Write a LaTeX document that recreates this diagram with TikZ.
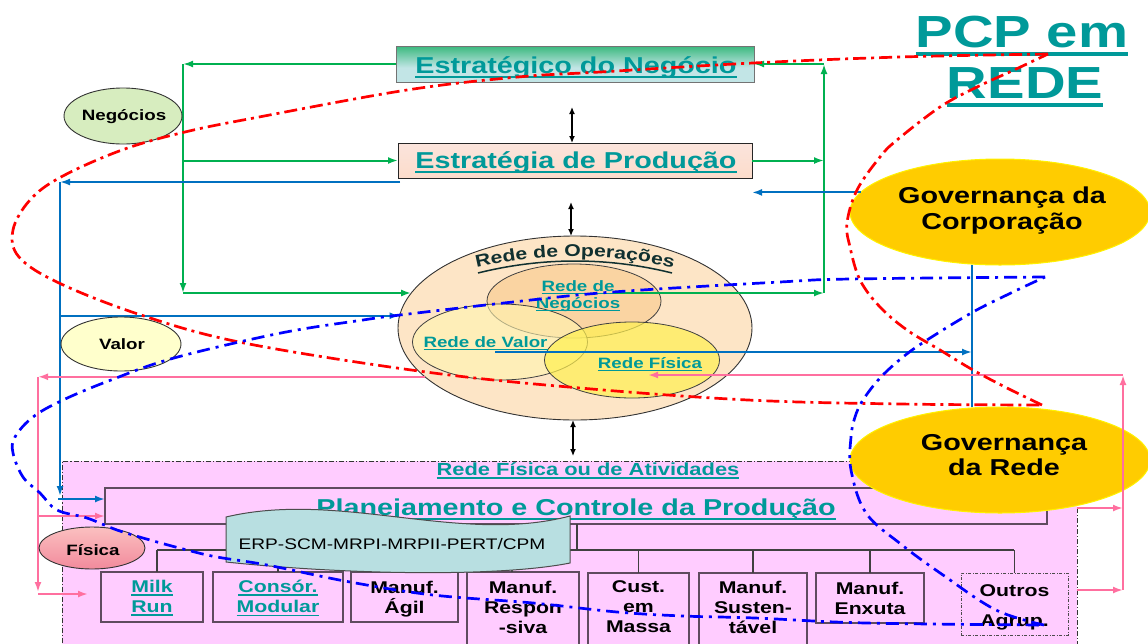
\documentclass[tikz,border=0pt]{standalone}
\usepackage{fontspec}
\newfontfamily\wf[FakeStretch=1.25]{Liberation Sans}
\usetikzlibrary{shapes.geometric,arrows.meta,decorations.text,calc}
\definecolor{tealt}{HTML}{009999}
\definecolor{gcol}{HTML}{00B050}
\definecolor{bcol}{HTML}{0070C0}
\definecolor{pcol}{HTML}{FF6F9F}
\definecolor{regcol}{HTML}{FFCCFF}
\definecolor{goldc}{HTML}{FFCC00}
\definecolor{opsc}{HTML}{FDE5C6}
\definecolor{negc}{HTML}{F8C98A}
\definecolor{valc}{HTML}{FFF5B0}
\definecolor{fisc}{HTML}{FFF050}
\definecolor{erpc}{HTML}{B8DFE1}
\definecolor{boxb}{HTML}{5F4B5F}
\definecolor{opt}{HTML}{103030}
\definecolor{negtop}{HTML}{00A651}
\definecolor{negbot}{HTML}{C2E5E6}
\definecolor{esttop}{HTML}{FBE4DC}
\definecolor{estmid}{HTML}{F8AF7E}
\definecolor{estbot}{HTML}{FCDCCB}
\definecolor{negl}{HTML}{D7EDBF}
\definecolor{vall}{HTML}{FFFFCC}
\definecolor{fistop}{HTML}{FBC0C0}
\definecolor{fisbot}{HTML}{F28A9C}
\pgfdeclareverticalshading{negshade}{100bp}{color(0bp)=(negbot); color(45bp)=(negbot); color(88bp)=(negtop); color(100bp)=(negtop)}
\newcommand\myul[1]{\leavevmode\setbox0\hbox{#1}\rlap{\vrule width\wd0 height -0.12em depth 0.21em}\box0}
\begin{document}
\begin{tikzpicture}[x=1pt,y=-1pt,
  every node/.style={inner sep=0pt, outer sep=0pt},
  fnt/.style args={#1/#2}{font=\wf\bfseries\fontsize{#1}{#2}\selectfont},
  gA/.style={draw=gcol, line width=2pt, -{Latex[length=10pt,width=7pt]}},
  bA/.style={draw=bcol, line width=2pt, -{Latex[length=10pt,width=7pt]}},
  bL/.style={draw=bcol, line width=2pt},
  pA/.style={draw=pcol, line width=2pt, -{Latex[length=10pt,width=7pt]}},
  dA/.style={draw=black, line width=1.3pt, {Latex[length=7pt,width=6pt]}-{Latex[length=7pt,width=6pt]}},
  tree/.style={draw=black!75, line width=1.1pt},
  bbox/.style={draw=boxb, line width=1.2pt, fill=regcol, rectangle},
  blab/.style={fnt=17/20, align=center},
  ell/.style={ellipse, draw=black!80, line width=0.9pt},
  inell/.style={ellipse, draw=black!75, line width=0.8pt},
  gov/.style={ellipse, fill=goldc, draw=yellow, line width=1pt, minimum width=300pt, minimum height=106pt},
  redc/.style={draw=red, line width=2.7pt, dash pattern=on 13pt off 5pt on 3pt off 5pt},
  bluc/.style={draw=blue, line width=2.7pt, dash pattern=on 13pt off 6pt on 3pt off 6pt},
]
\useasboundingbox (0,0) rectangle (1148,643);

% ---------- physical network region ----------
\node[rectangle, fill=regcol, draw=black!80, line width=0.8pt, dash pattern=on 5pt off 2pt on 1.2pt off 2pt, minimum width=1015pt, minimum height=200pt] (region) at (569.5,561) {};
\node[fnt=17.5/20, text=tealt, anchor=base] (rtitle) at (588,475) {\myul{Rede Física ou de Atividades}};

% ---------- PCP box ----------
\node[rectangle, draw=boxb, line width=1.2pt, minimum width=942pt, minimum height=36pt] (pcp) at (576,506) {};
\node[fnt=23/27, text=tealt, anchor=base] (pcptxt) at (576,515) {\myul{Planejamento e Controle da Produção}};

% ---------- bottom boxes ----------
\node[bbox, minimum width=102pt, minimum height=50pt] (milk) at (152,597) {};
\node[bbox, minimum width=130pt, minimum height=50pt] (cons) at (278,597) {};
\node[bbox, minimum width=107pt, minimum height=50pt] (agil) at (404.5,597) {};
\node[bbox, minimum width=112pt, minimum height=88pt] (resp) at (523,616) {};
\node[bbox, minimum width=101pt, minimum height=87pt] (cust) at (638.5,616.5) {};
\node[bbox, minimum width=108pt, minimum height=87pt] (sust) at (753,616.5) {};
\node[bbox, minimum width=108pt, minimum height=50pt] (enx) at (870,598) {};
\node[rectangle, fill=regcol, draw=black!70, line width=0.9pt, dash pattern=on 3pt off 1.5pt on 1pt off 1.5pt, minimum width=107pt, minimum height=62pt] (outros) at (1014.5,604) {};

% tree connectors
\coordinate (busL) at (157,550);
\coordinate (busR) at (1014,550);
\coordinate (pcpd) at (577,550);
\coordinate (rd) at (512,550);
\draw[tree] (busL) -- (busR);
\draw[tree] (pcp.south -| pcpd) -- (pcpd);
\draw[tree] (busL) -- (busL |- milk.north);
\draw[tree] (rd) -- (rd |- resp.north);
\foreach \b in {cons,agil,cust,sust,enx,outros} \draw[tree] (busL -| \b.north) -- (\b.north);

\node[blab, text=tealt] (milkT) at (152,598) {\myul{Milk}\\\myul{Run}};
\node[blab, text=tealt] (consT) at (278,598) {\myul{Consór.}\\\myul{Modular}};
\node[blab] (agilT) at (404.5,599) {Manuf.\\Ágil};
\node[blab] (respT) at (523,607) {Manuf.\\Respon\\-siva};
\node[blab] (custT) at (638.5,607) {Cust.\\em\\Massa};
\node[blab] (sustT) at (753,607) {Manuf.\\Susten-\\tável};
\node[blab] (enxT) at (870,598) {Manuf.\\Enxuta};
\node[blab] (outT) at (1014.5,607) {Outros\\[10pt]Agrup.};

% ERP banner
\path[fill=erpc, draw=black!70, line width=1pt] (226,517) .. controls (340,490) and (460,545) .. (570,516) -- (570,563) .. controls (500,577) and (350,575) .. (226,562) -- cycle;
\node[font=\wf\fontsize{15.3}{18}\selectfont, anchor=base] (erp) at (392,549) {ERP-SCM-MRPI-MRPII-PERT/CPM};

% ---------- top boxes ----------
\node[rectangle, shading=negshade, draw=black!55, line width=1pt, minimum width=358pt, minimum height=36pt] (negbox) at (575,64) {};
\node[fnt=23/27, text=tealt, anchor=base] (negtxt) at (576,73) {\myul{Estratégico do Negócio}};
\node[rectangle, top color=esttop, middle color=estmid, bottom color=estbot, draw=black!85, line width=1pt, minimum width=354pt, minimum height=35pt] (estbox) at (575,160.5) {};
\node[fnt=23/27, text=tealt, anchor=base] (esttxt) at (576,168) {\myul{Estratégia de Produção}};

% ---------- operations network ----------
\node[ell, fill=opsc, minimum width=354pt, minimum height=184pt] (ops) at (575,328) {};
\node[inell, fill=negc, fill opacity=0.6, minimum width=174pt, minimum height=74pt] (rneg) at (574,301) {};
\node[inell, fill=valc, fill opacity=0.6, minimum width=175pt, minimum height=76pt] (rval) at (500,342) {};
\node[inell, fill=fisc, fill opacity=0.7, minimum width=175pt, minimum height=76pt] (rfis) at (632,360) {};
\path[decorate, decoration={text along path, text align=center, text color=opt, text={|\wf\bfseries\fontsize{17}{20}\selectfont|Rede de Operações}}] (468,270) .. controls (538,252) and (612,252) .. (682,270);
\draw[opt, line width=1.5pt] (478,273) .. controls (542,257) and (608,257) .. (672,273);
\node[fnt=15/18, text=tealt, anchor=base] (rnegT1) at (578,291) {\myul{Rede de}};
\node[fnt=15/18, text=tealt, anchor=base] (rnegT2) at (578,308) {\myul{Negócios}};
\node[fnt=15/18, text=tealt, anchor=base] (rvalT) at (485.5,347) {\myul{Rede de Valor}};
\node[fnt=15/18, text=tealt, anchor=base] (rfisT) at (650,368) {\myul{Rede Física}};

% black double arrows
\coordinate (a1) at (572,107);
\coordinate (a2) at (571,202);
\coordinate (a3) at (573,456);
\draw[dA] (a1) -- (a1 |- estbox.north);
\draw[dA] (a2) -- (a2 |- ops.north);
\draw[dA] (a3 |- ops.south) -- (a3);

% ---------- governance ----------
\node[gov] (govC) at (1000,212) {};
\node[gov] (govR) at (1000,460) {};
\node[fnt=23/27, anchor=base] (govC1) at (1002,203) {Governança da};
\node[fnt=23/27, anchor=base] (govC2) at (1002,229) {Corporação};
\node[fnt=23/27, anchor=base] (govR1) at (1004,450) {Governança};
\node[fnt=23/27, anchor=base] (govR2) at (1004,475) {da Rede};

% ---------- green connectors ----------
\coordinate (gx) at (183,293);
\coordinate (gx2) at (824,293);
\coordinate (g1) at (613,293);
\draw[gA] (negbox.west) -- (negbox.west -| gx);
\draw[gA] (negbox.west -| gx) -- (gx);
\draw[gA] (gx) -- (gx -| ops.168);
\draw[gA] (estbox.west -| gx) -- (estbox.west);
\draw[gA] (estbox.east) -- (estbox.east -| gx2);
\draw[gA] (g1) -- (gx2);
\draw[gA] (gx2) -- (gx2 |- negbox.east);
\draw[gA] (gx2 |- negbox.east) -- (negbox.east);

% ---------- blue connectors ----------
\coordinate (b1) at ($(estbox.south west)+(2,4)$);
\coordinate (bx) at (60,499);
\coordinate (bv) at (972,352);
\coordinate (b2) at (495,352);
\draw[bA] (b1) -- (b1 -| bx);
\draw[bA] (b1 -| bx) -- ($(bx)+(0,-3)$);
\draw[bA] ($(bx)+(-2,0)$) -- (bx -| pcp.west);
\draw[bA] (bx |- ops.176) -- (ops.176);
\draw[bA] (govC.172) -- (govC.172 -| estbox.east);
\draw[bL] (bv |- govC.south) -- (bv |- govR.north);
\draw[bA] (b2) -- (bv);

% ---------- pink connectors ----------
\coordinate (px) at (38,594);
\coordinate (p516) at (38,516);
\coordinate (pt1) at (88,594);
\coordinate (px2) at (1123,375);
\coordinate (pr1) at (1123,508);
\coordinate (pr2) at (1123,590);
\coordinate (p648) at (648,375);
\draw[pA] (ops.198) -- (ops.198 -| px);
\draw[pA] (ops.198 -| px) -- ($(px)+(0,-2)$);
\draw[pA] (p516) -- (p516 -| pcp.west);
\draw[pA] (px) -- (pt1);
\draw[pA] (pr1 -| region.east) -- (pr1);
\draw[pA] (pr2 -| region.east) -- (pr2);
\draw[pA] (pr2) -- (px2);
\draw[pA] (px2) -- (p648);

% ---------- left ellipses ----------
\node[ell, fill=negl, minimum width=118pt, minimum height=56pt] (negL) at (123,116) {};
\node[fnt=15/18, anchor=base] (negLT) at (124,120) {Negócios};
\node[ell, fill=vall, minimum width=120pt, minimum height=54pt] (valL) at (121,344) {};
\node[fnt=15/18, anchor=base] (valLT) at (122,349) {Valor};
\node[ell, top color=fistop, bottom color=fisbot, minimum width=106pt, minimum height=42pt] (fisL) at (92,548) {};
\node[fnt=15/18, anchor=base] (fisLT) at (93,555) {Física};

% ---------- title ----------
\node[fnt=45/50, text=tealt, anchor=base] (t1) at (1022,47) {\myul{PCP em}};
\node[fnt=45/50, text=tealt, anchor=base] (t2) at (1025,98) {\myul{REDE}};

% ---------- red dash-dot loop ----------
\draw[redc] plot[smooth, tension=0.6] coordinates {(1048,54) (900,57) (753,63) (600,72) (518,77) (407,90) (259,117) (185,132) (122,150) (61,177) (30,200) (13,230) (19,257) (59,283) (141,315) (244,343) (426,372) (580,388) (748,400) (900,404) (1042,405)};
\draw[redc] plot[smooth, tension=0.6] coordinates {(1042,405) (1007,388) (973,370) (940,350) (907,330) (880,307) (860,280) (850,247) (847,223) (857,190) (880,157) (897,140) (940,107) (977,87) (1014,70) (1048,54)};

% ---------- blue dash-dot loop ----------
\draw[bluc] plot[smooth, tension=0.6] coordinates {(1045,277) (850,279) (780,282) (613,292) (513,302) (400,315) (363,320) (281,333) (174,358) (111,380) (63,400) (33,417) (15,437) (13,453) (23,477) (40,493) (57,510) (87,518) (117,530) (150,540) (187,550) (217,557) (267,565) (350,582) (433,595) (533,603) (617,612) (683,616) (755,618) (866,623) (1044,625)};
\draw[bluc] plot[smooth, tension=0.6] coordinates {(1044,625) (996,610) (943,575) (902,545) (866,513) (851,470) (851,437) (855,417) (863,400) (880,378) (903,357) (927,340) (973,312) (1013,292) (1045,277)};
\end{tikzpicture}
\end{document}
